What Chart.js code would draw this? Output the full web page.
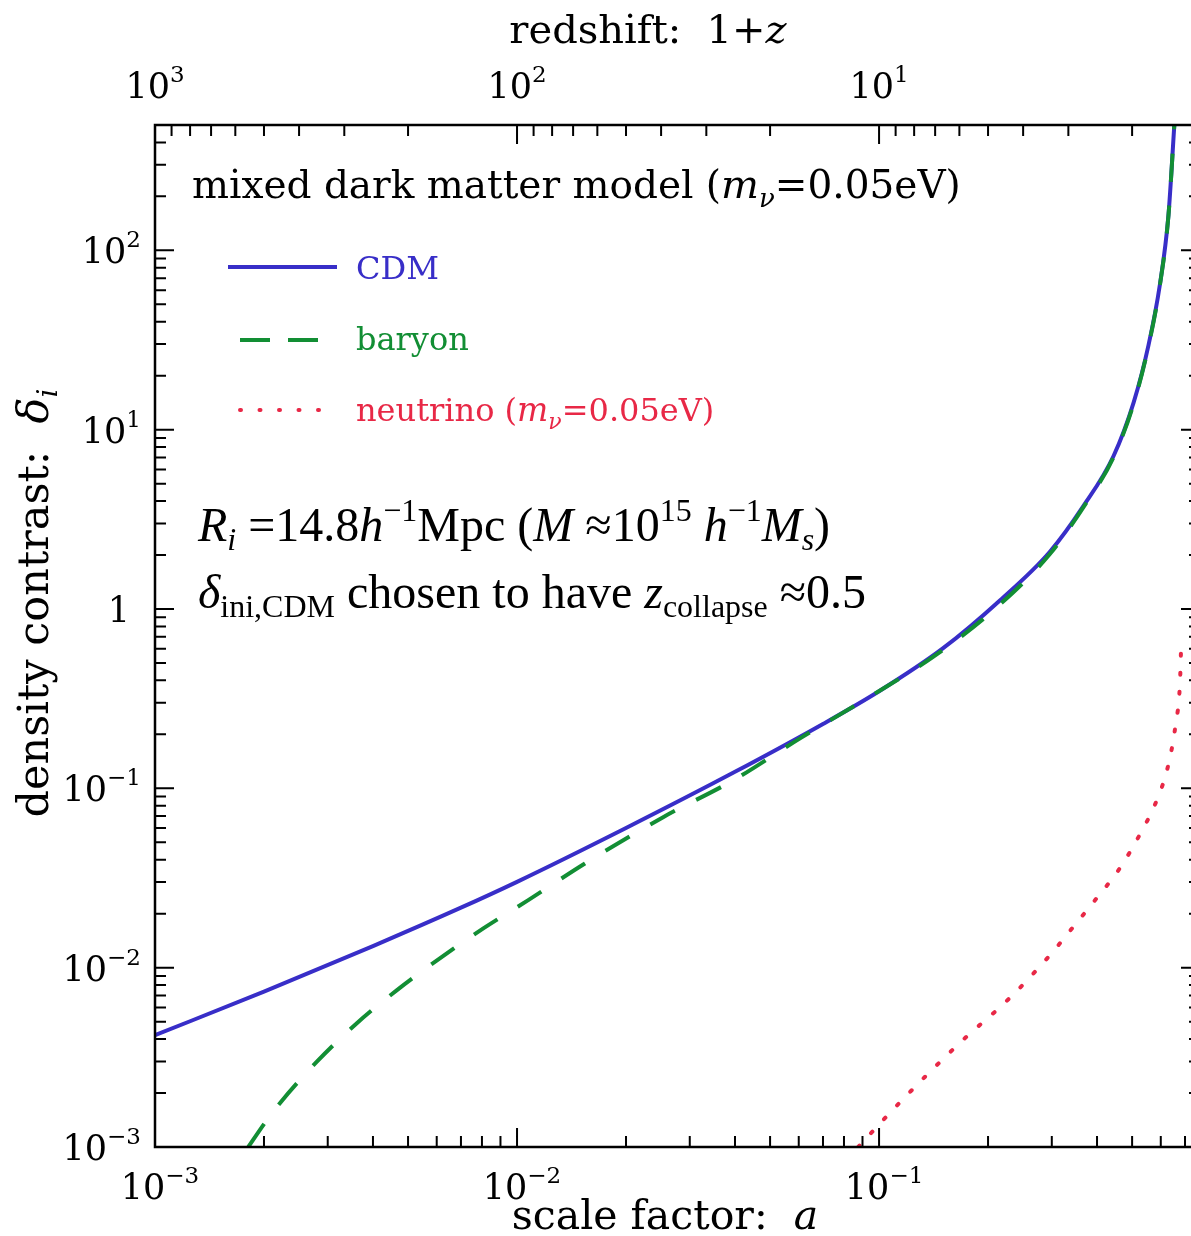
<!DOCTYPE html>
<html>
<head>
<meta charset="utf-8">
<script src="https://cdn.jsdelivr.net/npm/chart.js@4.4.0/dist/chart.umd.min.js"></script>
<style>
  html, body { margin: 0; padding: 0; background: #fff; overflow: hidden; }
  canvas { display: block; }
</style>
</head>
<body>
<canvas id="deltaChart" width="1202" height="1236"></canvas>
<script>
// values: scale factor a, density contrast delta
const cdmA = [0.001, 0.002, 0.004, 0.007, 0.01, 0.02, 0.04, 0.07, 0.1, 0.15, 0.216, 0.296, 0.367, 0.444, 0.505, 0.555, 0.597, 0.630, 0.654];
const cdmDelta = [0.0042, 0.00736, 0.0132, 0.0216, 0.0301, 0.0601, 0.1236, 0.2286, 0.348, 0.603, 1.12, 2.08, 3.76, 7.11, 14.2, 29.6, 64.9, 157, 500];

const baryonA = [0.00181, 0.00201, 0.00221, 0.0028, 0.00361, 0.00466, 0.00612, 0.00807, 0.01074, 0.0154, 0.0254, 0.0396, 0.0605, 0.0925, 0.141, 0.207, 0.296, 0.367, 0.444, 0.505, 0.555, 0.597, 0.630, 0.654];
const baryonDelta = [0.001, 0.00136, 0.00175, 0.00299, 0.0049, 0.0075, 0.01127, 0.01656, 0.0238, 0.0381, 0.0693, 0.111, 0.19, 0.317, 0.541, 0.985, 2.02, 3.7, 7.0, 14.0, 29.3, 64.5, 156, 500];

const nuA = [0.0875, 0.118, 0.167, 0.230, 0.296, 0.344, 0.399, 0.463, 0.526, 0.585, 0.630, 0.660, 0.678, 0.684];
const nuDelta = [0.001, 0.0019, 0.0038, 0.0068, 0.0117, 0.0169, 0.0244, 0.036, 0.0556, 0.0859, 0.136, 0.230, 0.390, 0.70];

// tick labels (10^exp)
const xTickVals = [1e-3, 1e-2, 1e-1];
const xTickExp = ["\u22123", "\u22122", "\u22121"];
const zTickVals = [1000, 100, 10];
const zTickExp = ["3", "2", "1"];
const yTickVals = [1e-3, 1e-2, 1e-1, 1, 10, 100];
const yTickExp = ["\u22123", "\u22122", "\u22121", "", "1", "2"];

const BLUE = "rgb(56,46,200)";
const GREEN = "rgb(18,142,52)";
const RED = "rgb(232,40,70)";

const CM = '"DejaVu Serif", serif';
const TIMES = '"Liberation Serif", "Times New Roman", serif';

function pts(xs, ys) {
  return xs.map((v, i) => ({ x: v, y: ys[i] }));
}

// draw a row of text pieces (for sub/superscripts)
function drawRuns(ctx, runs, x, y, align) {
  let w = 0;
  runs.forEach(r => { ctx.font = r.f; w += ctx.measureText(r.t).width; });
  let cx = x;
  if (align === "center") cx = x - w / 2;
  if (align === "right") cx = x - w;
  runs.forEach(r => {
    ctx.font = r.f;
    ctx.fillStyle = r.c || ctx.fillStyle;
    ctx.fillText(r.t, cx, y + (r.dy || 0));
    cx += ctx.measureText(r.t).width;
  });
}

function powerRuns(exp) {
  if (exp === "") return [{ t: "1", f: "35px " + CM }];
  return [{ t: "10", f: "35px " + CM }, { t: exp, f: "23px " + CM, dy: -16 }];
}

function eachLogValue(min, max, fn) {
  const e0 = Math.floor(Math.log10(min)), e1 = Math.ceil(Math.log10(max));
  for (let e = e0; e <= e1; e++) {
    for (let k = 1; k <= 9; k++) {
      const v = k * Math.pow(10, e);
      if (v >= min * 0.9999 && v <= max * 1.0001) fn(v, k === 1);
    }
  }
}

const framePlugin = {
  id: "framePlugin",
  afterDraw(chart) {
    const { ctx, chartArea, scales } = chart;
    const { left, top, right, bottom } = chartArea;
    const x = scales.x, z = scales.x2, y = scales.y;
    ctx.save();
    ctx.strokeStyle = "#000";
    ctx.lineWidth = 2.5;
    ctx.strokeRect(left, top, right - left, bottom - top);

    ctx.lineWidth = 2;
    const MAJ = 19, MIN = 11;
    ctx.beginPath();
    eachLogValue(x.min, x.max, (v, major) => {
      const px = x.getPixelForValue(v);
      ctx.moveTo(px, bottom); ctx.lineTo(px, bottom - (major ? MAJ : MIN));
    });
    eachLogValue(z.min, z.max, (v, major) => {
      const px = z.getPixelForValue(v);
      ctx.moveTo(px, top); ctx.lineTo(px, top + (major ? MAJ : MIN));
    });
    eachLogValue(y.min, y.max, (v, major) => {
      const py = y.getPixelForValue(v);
      const len = major ? MAJ : MIN;
      ctx.moveTo(left, py); ctx.lineTo(left + len, py);
      ctx.moveTo(right, py); ctx.lineTo(right - len, py);
    });
    ctx.stroke();

    // tick labels
    ctx.fillStyle = "#000";
    ctx.textBaseline = "alphabetic";
    xTickVals.forEach((v, i) => {
      drawRuns(ctx, powerRuns(xTickExp[i]), x.getPixelForValue(v) + 5, 1199, "center");
    });
    zTickVals.forEach((v, i) => {
      drawRuns(ctx, powerRuns(zTickExp[i]), z.getPixelForValue(v), 98, "center");
    });
    yTickVals.forEach((v, i) => {
      const right = yTickExp[i] === "" ? 130 : 141;
      drawRuns(ctx, powerRuns(yTickExp[i]), right, y.getPixelForValue(v) + 13, "right");
    });

    // axis titles
    drawRuns(ctx, [{ t: "redshift:  1+", f: "40px " + CM }, { t: "z", f: "italic 40px " + CM }], 648, 43, "center");
    drawRuns(ctx, [{ t: "scale factor:  ", f: "41px " + CM }, { t: "a", f: "italic 41px " + CM }], 665, 1229, "center");
    ctx.save();
    ctx.translate(48, 603);
    ctx.rotate(-Math.PI / 2);
    drawRuns(ctx, [{ t: "density contrast:  ", f: "43px " + CM }, { t: "\u03b4", f: "italic 43px " + CM }, { t: "i", f: "italic 28px " + CM, dy: 9 }], 0, 0, "center");
    ctx.restore();

    // heading inside the plot
    drawRuns(ctx, [
      { t: "mixed dark matter model (", f: "39px " + CM },
      { t: "m", f: "italic 40px " + CM },
      { t: "\u03bd", f: "italic 26px " + CM, dy: 9 },
      { t: "=0.05eV)", f: "39px " + CM }
    ], 192, 198, "left");

    // legend
    ctx.lineWidth = 4;
    ctx.strokeStyle = BLUE;
    ctx.beginPath(); ctx.moveTo(228, 267); ctx.lineTo(337, 267); ctx.stroke();
    ctx.strokeStyle = GREEN;
    ctx.setLineDash([30, 18]);
    ctx.beginPath(); ctx.moveTo(240, 340); ctx.lineTo(320, 340); ctx.stroke();
    ctx.strokeStyle = RED;
    ctx.lineCap = "round";
    ctx.setLineDash([1, 18.5]);
    ctx.beginPath(); ctx.moveTo(240, 410); ctx.lineTo(336, 410); ctx.stroke();
    ctx.setLineDash([]);
    ctx.lineCap = "butt";

    drawRuns(ctx, [{ t: "CDM", f: "32px " + CM, c: BLUE }], 356, 279, "left");
    drawRuns(ctx, [{ t: "baryon", f: "32px " + CM, c: GREEN }], 356, 350, "left");
    drawRuns(ctx, [
      { t: "neutrino (", f: "32px " + CM, c: RED },
      { t: "m", f: "italic 33px " + CM, c: RED },
      { t: "\u03bd", f: "italic 22px " + CM, c: RED, dy: 8 },
      { t: "=0.05eV)", f: "32px " + CM, c: RED }
    ], 356, 421, "left");

    // annotation (Times-like)
    ctx.fillStyle = "#000";
    const R = "48px " + TIMES, I = "italic 48px " + TIMES;
    const r = "32px " + TIMES, i = "italic 32px " + TIMES;
    drawRuns(ctx, [
      { t: "R", f: I, c: "#000" }, { t: "i", f: i, dy: 9 }, { t: " =14.8", f: R },
      { t: "h", f: I }, { t: "\u22121", f: r, dy: -20 }, { t: "Mpc (", f: R },
      { t: "M", f: I }, { t: " \u224810", f: R }, { t: "15", f: r, dy: -20 },
      { t: " h", f: I }, { t: "\u22121", f: r, dy: -20 }, { t: "M", f: I },
      { t: "s", f: i, dy: 9 }, { t: ")", f: R }
    ], 198, 541, "left");
    drawRuns(ctx, [
      { t: "\u03b4", f: I }, { t: "ini,CDM", f: r, dy: 9 }, { t: " chosen to have ", f: R },
      { t: "z", f: I }, { t: "collapse", f: r, dy: 9 }, { t: " \u22480.5", f: R }
    ], 198, 608, "left");
    ctx.restore();
  }
};

const ctx = document.getElementById("deltaChart").getContext("2d");

const deltaChart = new Chart(ctx, {
  type: "scatter",
  data: {
    datasets: [
      {
        label: "CDM",
        data: pts(cdmA, cdmDelta),
        showLine: true,
        borderColor: BLUE,
        borderWidth: 4,
        pointRadius: 0,
        cubicInterpolationMode: "monotone",
        order: 3,
      },
      {
        label: "baryon",
        data: pts(baryonA, baryonDelta),
        showLine: true,
        borderColor: GREEN,
        borderWidth: 4,
        borderDash: [28, 24],
        pointRadius: 0,
        cubicInterpolationMode: "monotone",
        order: 2,
      },
      {
        label: "neutrino",
        data: pts(nuA, nuDelta),
        showLine: true,
        borderColor: RED,
        borderWidth: 4,
        borderDash: [2, 17],
        borderCapStyle: "round",
        pointRadius: 0,
        cubicInterpolationMode: "monotone",
        order: 1,
      },
    ],
  },
  options: {
    responsive: false,
    animation: false,
    devicePixelRatio: 1,
    layout: { padding: { left: 0, right: 2, top: 0, bottom: 0 } },
    plugins: {
      legend: { display: false },
      tooltip: { enabled: false },
    },
    scales: {
      x: {
        type: "logarithmic",
        position: "bottom",
        min: 0.001,
        max: 0.77,
        ticks: { display: false },
        grid: { display: false },
        border: { display: false },
        afterFit(s) { s.height = 89; },
      },
      x2: {
        type: "logarithmic",
        position: "top",
        reverse: true,
        min: 1 / 0.77,
        max: 1000,
        ticks: { display: false },
        grid: { display: false },
        border: { display: false },
        afterFit(s) { s.height = 125; },
      },
      y: {
        type: "logarithmic",
        min: 0.001,
        max: 500,
        ticks: { display: false },
        grid: { display: false },
        border: { display: false },
        afterFit(s) { s.width = 155; },
      },
    },
  },
  plugins: [framePlugin],
});
</script>
</body>
</html>
